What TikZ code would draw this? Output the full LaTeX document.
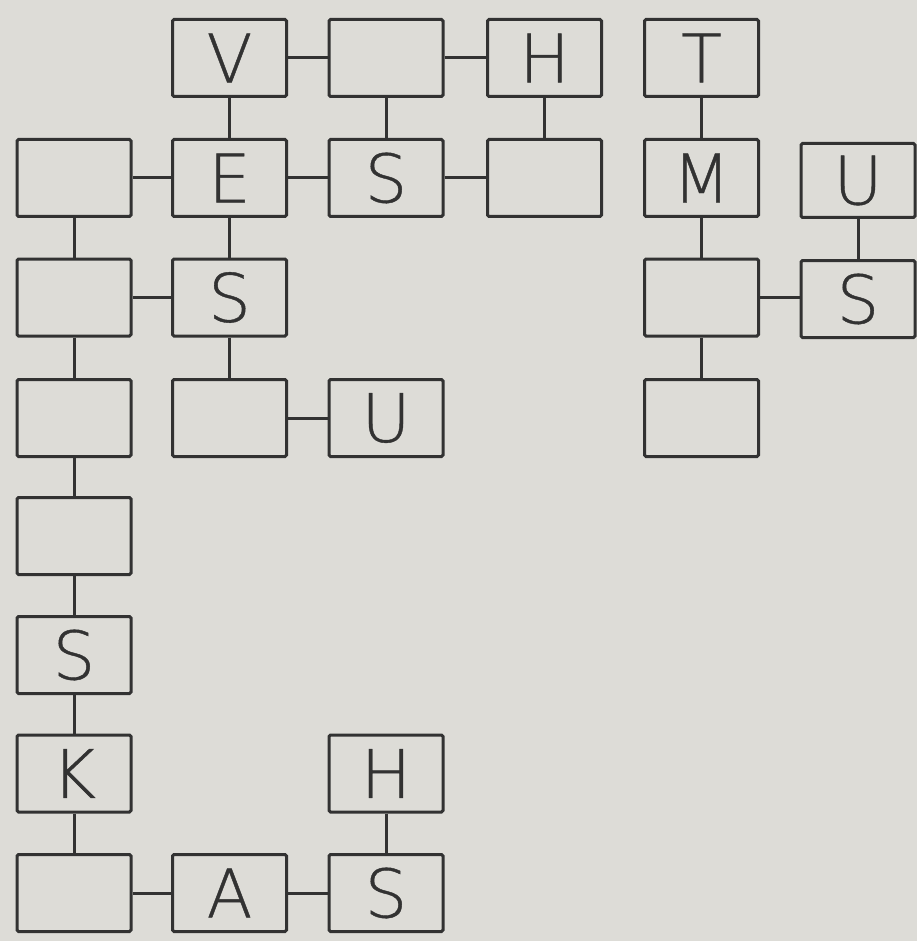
\documentclass[tikz,border=0pt]{standalone}
\usepackage{fontspec}
\newfontfamily\lett{DejaVu Sans ExtraLight}[FakeBold=0.6]
\definecolor{paper}{RGB}{221,220,215}
\definecolor{ink}{RGB}{50,50,50}
\begin{document}
\begin{tikzpicture}[x=1pt,y=-1pt,
  cell/.style={draw=ink, line width=3pt, minimum width=114pt, minimum height=77pt,
    inner sep=0pt, rounded corners=1.5pt, text=ink,
    font=\lett\fontsize{67}{67}\selectfont},
  link/.style={draw=ink, line width=3pt}]
\fill[paper] (0,0) rectangle (917,941);
\useasboundingbox (0,0) rectangle (917,941);
% row 1
\node[cell] (v)   at (229.5,58) {V};
\node[cell] (c1)  at (386,58) {};
\node[cell] (h1)  at (544.5,58) {H};
\node[cell] (t)   at (701.5,58) {T};
% row 2
\node[cell] (a2)  at (74,178) {};
\node[cell] (e)   at (229.5,178) {E};
\node[cell] (s2)  at (386,178) {S};
\node[cell] (d2)  at (544.5,178) {};
\node[cell] (m)   at (701.5,178) {M};
\node[cell, minimum height=74pt] (u2) at (858,180.5) {U};
% row 3
\node[cell] (a3)  at (74,297.5) {};
\node[cell] (s3)  at (229.5,297.5) {S};
\node[cell] (e3)  at (701.5,297.5) {};
\node[cell] (f3)  at (858,299) {S};
% row 4
\node[cell] (a4)  at (74,418) {};
\node[cell] (b4)  at (229.5,418) {};
\node[cell] (u4)  at (386,418) {U};
\node[cell] (e4)  at (701.5,418) {};
% column A, lower part
\node[cell] (a5)  at (74,536) {};
\node[cell] (s6)  at (74,655) {S};
\node[cell] (k)   at (74,773.5) {K};
\node[cell] (h7)  at (386,773.5) {H};
\node[cell] (a8)  at (74,893) {};
\node[cell] (b8)  at (229.5,893) {A};
\node[cell] (s8)  at (386,893) {S};
% connectors
\draw[link] (v) -- (c1);
\draw[link] (c1) -- (h1);
\draw[link] (v) -- (e);
\draw[link] (c1) -- (s2);
\draw[link] (h1) -- (d2);
\draw[link] (t) -- (m);
\draw[link] (a2) -- (e);
\draw[link] (e) -- (s2);
\draw[link] (s2) -- (d2);
\draw[link] (a2) -- (a3);
\draw[link] (e) -- (s3);
\draw[link] (m) -- (e3);
\draw[link] (u2) -- (u2 |- f3.north);
\draw[link] (a3) -- (s3);
\draw[link] (e3) -- (e3 -| f3.west);
\draw[link] (a3) -- (a4);
\draw[link] (s3) -- (b4);
\draw[link] (e3) -- (e4);
\draw[link] (b4) -- (u4);
\draw[link] (a4) -- (a5);
\draw[link] (a5) -- (s6);
\draw[link] (s6) -- (k);
\draw[link] (k) -- (a8);
\draw[link] (a8) -- (b8);
\draw[link] (b8) -- (s8);
\draw[link] (h7) -- (s8);
\end{tikzpicture}
\end{document}
